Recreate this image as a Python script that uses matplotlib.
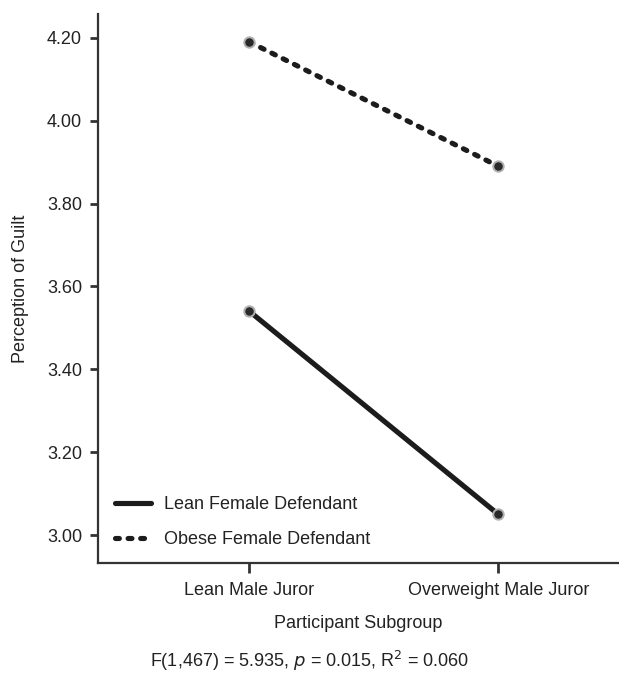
import numpy as np
import matplotlib.pyplot as plt

plt.rcParams['font.family'] = ['Liberation Sans', 'DejaVu Sans']

groups = ['Lean Male Juror', 'Overweight Male Juror']
lean_def = [3.54, 3.05]
obese_def = [4.19, 3.89]
yticks = [3.00, 3.20, 3.40, 3.60, 3.80, 4.00, 4.20]

x = np.arange(len(groups))

fig = plt.figure(figsize=(6.19, 6.74), dpi=100)
ax = fig.add_axes([0.1583, 0.165, 0.8417, 0.814])

ax.plot(x, lean_def, color='#1c1c1c', lw=3.7, solid_capstyle='round',
        label='Lean Female Defendant')
ax.plot(x, obese_def, color='#1c1c1c', lw=3.7, ls=(0, (0.75, 1.7)),
        dash_capstyle='round', label='Obese Female Defendant')
for vals in (lean_def, obese_def):
    ax.plot(x, vals, 'o', ms=7.5, mfc='#2a2a2a', mec='#b0b0b0', mew=1.4, zorder=5)

ax.set_xlim(-0.608, 1.485)
ax.set_ylim(2.933, 4.257)
ax.set_xticks(x)
ax.set_xticklabels(groups, fontsize=13)
ax.set_yticks(yticks)
ax.set_yticklabels(['%.2f' % t for t in yticks], fontsize=13)
ax.tick_params(axis='both', length=6, width=2, color='#333333', labelcolor='#222222')
ax.tick_params(axis='y', pad=5.5)
ax.tick_params(axis='x', length=7, pad=7)

for s in ['top', 'right']:
    ax.spines[s].set_visible(False)
for s in ['left', 'bottom']:
    ax.spines[s].set_linewidth(1.6)
    ax.spines[s].set_color('#333333')

ax.set_ylabel('Perception of Guilt', fontsize=13, labelpad=13, color='#222222')
ax.set_xlabel('Participant Subgroup', fontsize=13, labelpad=11, color='#222222')

ax.legend(loc='lower left', frameon=False, fontsize=13, handlelength=2.0,
          handletextpad=0.7, labelspacing=1.0, borderaxespad=0.4,
          bbox_to_anchor=(0.005, 0.0), labelcolor='#222222')

fig.text(0.5, 0.02, r'F(1,467) = 5.935, $\it{p}$ = 0.015, R$^2$ = 0.060',
         ha='center', va='center', fontsize=13, color='#222222')

fig.savefig('out.png', dpi=100)
